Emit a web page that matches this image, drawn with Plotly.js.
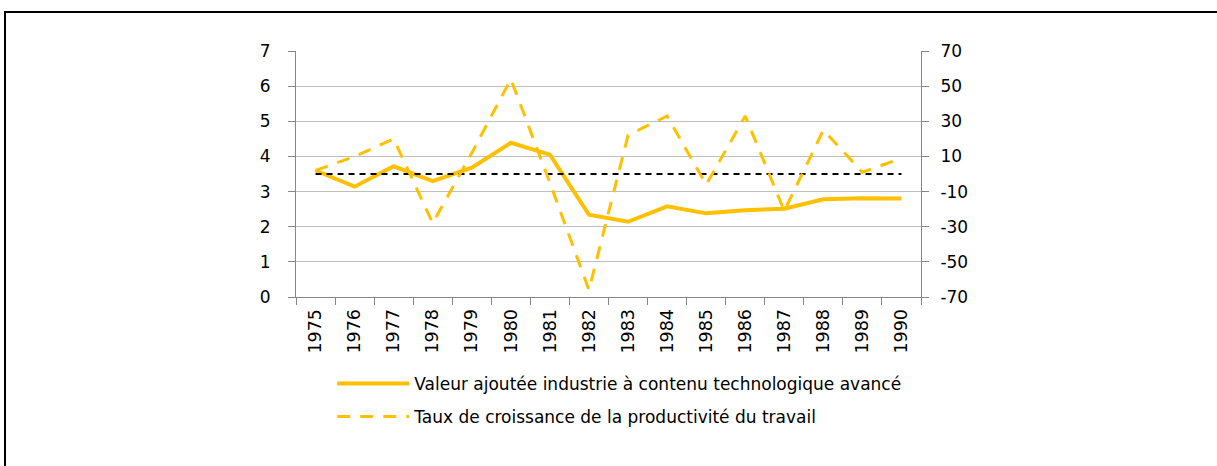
<!DOCTYPE html>
<html><head><meta charset="utf-8">
<script src="https://cdn.plot.ly/plotly-3.0.1.min.js"></script>
<style>
body{margin:0;background:#fff;}
#frame{position:absolute;left:4px;top:11px;width:1240px;height:480px;border:2px solid #000;box-sizing:border-box;pointer-events:none;z-index:5;}
#chart{width:1217px;height:466px;}
</style></head>
<body>
<div id="frame"></div>
<div id="chart"></div>
<script>
var years = ["1975","1976","1977","1978","1979","1980","1981","1982","1983","1984","1985","1986","1987","1988","1989","1990"];
var valeurAjoutee = [3.6,3.14,3.72,3.3,3.68,4.39,4.05,2.34,2.14,2.58,2.38,2.47,2.51,2.78,2.81,2.8];
var tauxCroissance = [2,10,20,-28,12,54,-5,-66,22,33,-6,33,-21,25,1,9];
var reference = [3.5,3.5,3.5,3.5,3.5,3.5,3.5,3.5,3.5,3.5,3.5,3.5,3.5,3.5,3.5,3.5];
var leftTicks = [0,1,2,3,4,5,6,7];
var rightTicks = [-70,-50,-30,-10,10,30,50,70];

var gold = '#FFC000';
var font = '"DejaVu Sans", sans-serif';
var traces = [
  {x: years, y: valeurAjoutee, type:'scatter', mode:'lines', name:'Valeur ajoutée industrie à contenu technologique avancé',
   line:{color:gold, width:4}, yaxis:'y', legendgroup:'a'},
  {x: years, y: tauxCroissance, type:'scatter', mode:'lines', name:'Taux de croissance de la productivité du travail',
   line:{color:gold, width:3, dash:'13px,10px'}, yaxis:'y2', legendgroup:'b'},
  {x: years, y: reference, type:'scatter', mode:'lines', showlegend:false,
   line:{color:'#000', width:2, dash:'6px,5px'}, yaxis:'y'}
];
var layout = {
  width:1217, height:466,
  margin:{l:296, r:296, t:51, b:169},
  paper_bgcolor:'#fff', plot_bgcolor:'#fff',
  font:{family:font, color:'#000', size:17},
  showlegend:true,
  legend:{x:0.058, y:-0.28, xanchor:'left', yanchor:'top', orientation:'v',
    font:{family:font, size:17, color:'#000'}, itemwidth:72, tracegroupgap:8, bgcolor:'rgba(0,0,0,0)'},
  xaxis:{type:'category', tickangle:-90, showgrid:false, showline:true, linecolor:'#868686', linewidth:1,
    ticks:'outside', tickson:'boundaries', ticklen:7, tickcolor:'#868686', tickfont:{size:17.5, family:font},
    ticklabelstandoff:4, range:[-0.5,15.5], zeroline:false},
  yaxis:{range:[0,7], tickvals:leftTicks, ticktext:leftTicks.map(String), showgrid:true, gridcolor:'#BFBFBF', gridwidth:1,
    showline:true, linecolor:'#868686', ticks:'outside', ticklen:7, tickcolor:'#868686', zeroline:false,
    tickfont:{size:17, family:font}, ticklabelstandoff:14},
  yaxis2:{range:[-70,70], tickvals:rightTicks, ticktext:rightTicks.map(String), overlaying:'y', side:'right', showgrid:false,
    showline:true, linecolor:'#868686', ticks:'outside', ticklen:7, tickcolor:'#868686', zeroline:false,
    tickfont:{size:17, family:font}, ticklabelstandoff:8}
};
Plotly.newPlot('chart', traces, layout, {displayModeBar:false, staticPlot:true});
</script>
</body></html>
